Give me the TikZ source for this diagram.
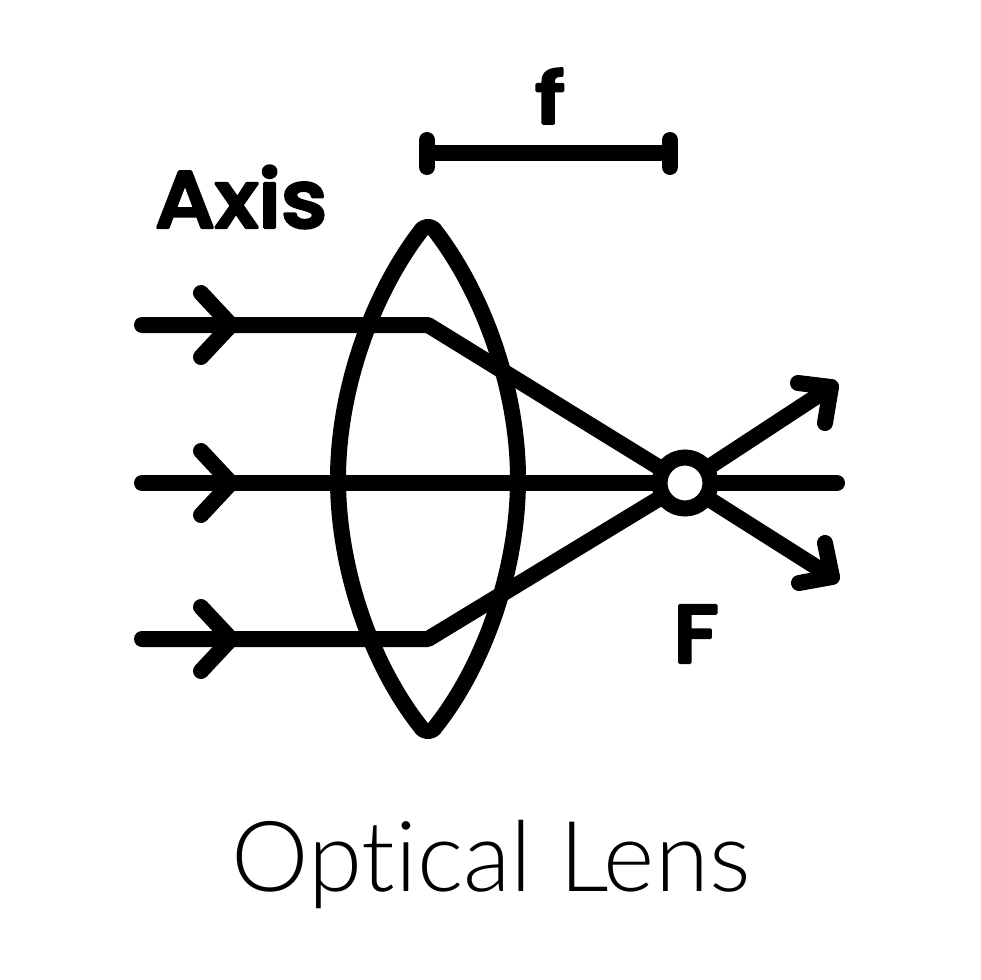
\documentclass[tikz,border=0pt]{standalone}
\usepackage{fontspec}
\setmainfont{Open Sans}
\newfontfamily\titlefont[Ligatures=NoCommon]{Lato Light}
\newfontfamily\lblfont[FakeBold=4,FakeStretch=1.08]{Poppins Medium}
\newfontfamily\lblwide[FakeBold=4,FakeStretch=1.3]{Poppins Medium}
\newcommand{\roundjoin}{\special{pdf:code 1 j 1 J}}
\begin{document}
\begin{tikzpicture}[x=1pt,y=-1pt,
  ink/.style={draw=black,line width=16pt,line cap=round,line join=round},
  lbl/.style={inner sep=0pt}]
\useasboundingbox[fill=white] (0,0) rectangle (980,980);
\coordinate (topl) at (420,232);
\coordinate (topr) at (436,232);
\coordinate (botl) at (420,726);
\coordinate (botr) at (436,726);
\coordinate (u) at (428,325);
\coordinate (d) at (428,639);
\coordinate (F) at (685,483);
% lens
\draw[ink] (topl) .. controls (372,295) and (338,390) .. (338,479) .. controls (338,570) and (372,665) .. (botl)
  .. controls (424,733) and (432,733) .. (botr)
  .. controls (484,665) and (518,570) .. (518,479) .. controls (518,390) and (484,295) .. (topr)
  .. controls (432,225) and (424,225) .. (topl) -- cycle;
% rays
\draw[ink] (142,325) -- (u) -- (660,468);
\draw[ink] (142,483) -- (655,483);
\draw[ink] (142,639) -- (d) -- (660,498);
\draw[ink] (716,483) -- (837,483);
% ray arrowheads
\draw[ink] (201,293) -- (231,325) -- (201,357);
\draw[ink] (201,451) -- (231,483) -- (201,515);
\draw[ink] (201,607) -- (231,639) -- (201,671);
% focal point
\node[circle,draw=black,line width=16pt,fill=white,minimum size=51pt,inner sep=0pt] (fp) at (F) {};
% outgoing
\coordinate (a1) at (831,387);
\coordinate (a2) at (832,577);
\draw[ink] (712,465) -- (a1);
\draw[ink] (798,383) -- (a1) -- (825,423);
\draw[ink] (712,501) -- (a2);
\draw[ink] (825,543) -- (a2) -- (799,583);
% f bar
\coordinate (b1) at (427,153);
\coordinate (b2) at (670,153);
\draw[ink] (b1) -- (b2);
\draw[ink] (427,140) -- (427,167);
\draw[ink] (670,140) -- (670,167);
% labels
\node[lbl,font=\lblwide\fontsize{71}{71}\selectfont] (fl) at (550,96) {\roundjoin f};
\node[lbl,font=\lblfont\fontsize{80}{80}\selectfont] (axis) at (241,197) {\roundjoin Axis};
\node[lbl,font=\lblfont\fontsize{82}{82}\selectfont] (Fl) at (696,634) {\roundjoin F};
\node[inner sep=0pt,font=\titlefont\fontsize{98}{98}\selectfont] (title) at (491,864) {Optical Lens};
\end{tikzpicture}
\end{document}
